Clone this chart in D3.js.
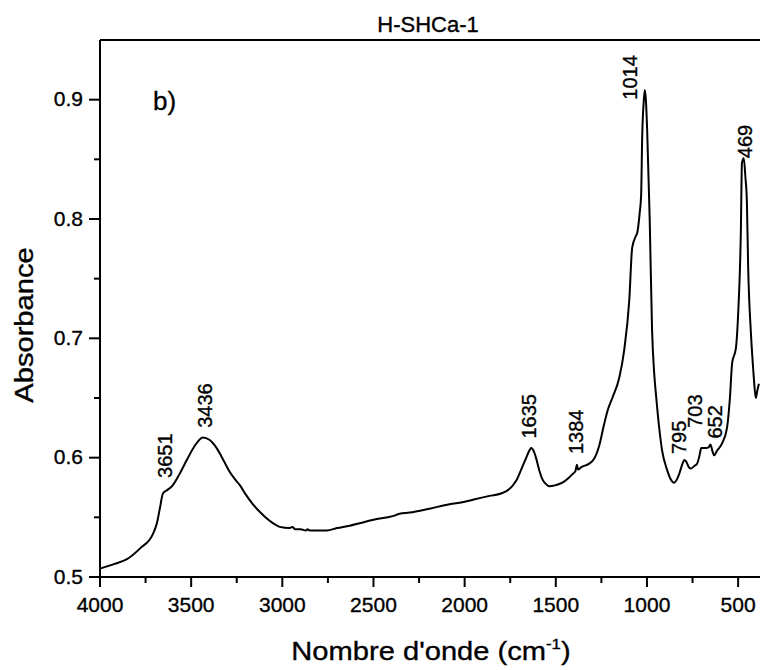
<!DOCTYPE html>
<html>
<head>
<meta charset="utf-8">
<script src="https://cdn.jsdelivr.net/npm/d3@7"></script>
<style>
  body { margin: 0; background: #fff; }
  svg text { font-family: "Liberation Sans", Arial, sans-serif; fill: #000; stroke: #000; stroke-width: 0.35px; }
</style>
</head>
<body>
<div id="graph"></div>
<script>

/********DATA******/

const waveNumbers = [4000, 3920, 3852, 3780, 3710, 3688, 3671, 3655, 3630, 3606, 3565, 3524, 3480, 3436,
    3400, 3360, 3320, 3288, 3260, 3233, 3200, 3162, 3120, 3085, 3050, 3014, 2960, 2943, 2930, 2900,
    2870, 2862, 2850, 2800, 2757, 2700, 2630, 2576, 2500, 2395, 2357, 2302, 2200, 2083, 2000, 1950,
    1864, 1800, 1771, 1740, 1716, 1690, 1662, 1645, 1635, 1620, 1607, 1590, 1574, 1555, 1536, 1500,
    1464, 1430, 1410, 1392, 1384, 1378, 1360, 1317, 1290, 1262, 1235, 1215, 1190, 1152, 1125, 1097,
    1081, 1060, 1054, 1040, 1032, 1026, 1018, 1012, 1006, 999, 985, 972, 960, 950, 935, 917, 890,
    870, 851, 835, 824, 805, 795, 786, 770, 758, 740, 725, 710, 703, 690, 676, 660, 652, 640, 632,
    615, 588, 561, 545, 533, 512, 500, 485, 479, 469, 460, 452, 445, 430, 420, 413, 403, 395, 386];

const absorbance = [0.507, 0.511, 0.515, 0.524, 0.536, 0.545, 0.558, 0.570, 0.573, 0.576, 0.586, 0.598, 0.610, 0.617,
    0.615, 0.608, 0.597, 0.588, 0.582, 0.577, 0.569, 0.561, 0.554, 0.549, 0.545, 0.542, 0.541, 0.542, 0.540, 0.540,
    0.539, 0.540, 0.539, 0.539, 0.539, 0.541, 0.543, 0.545, 0.548, 0.551, 0.553, 0.554, 0.557, 0.561, 0.563, 0.565,
    0.568, 0.570, 0.572, 0.576, 0.581, 0.590, 0.600, 0.606, 0.608, 0.605, 0.599, 0.589, 0.582, 0.578, 0.576, 0.577,
    0.579, 0.583, 0.586, 0.589, 0.594, 0.590, 0.592, 0.595, 0.599, 0.610, 0.628, 0.640, 0.650, 0.667, 0.690, 0.732,
    0.776, 0.786, 0.788, 0.805, 0.820, 0.870, 0.898, 0.908, 0.900, 0.875, 0.800, 0.707, 0.670, 0.652, 0.628, 0.606, 0.590,
    0.582, 0.579, 0.582, 0.586, 0.595, 0.598, 0.597, 0.592, 0.591, 0.593, 0.595, 0.603, 0.608, 0.608, 0.608, 0.609, 0.611, 0.605, 0.602,
    0.606, 0.612, 0.625, 0.650, 0.679, 0.692, 0.720, 0.790, 0.847, 0.851, 0.835, 0.815, 0.760, 0.705, 0.680, 0.665, 0.650, 0.656, 0.662];

// peak annotations : text, wavenumber where the label stands, absorbance at its foot
const peakLabels = ["3651", "3436", "1635", "1384", "1014", "795", "703", "652", "469"];
const peakWave   = [3644, 3425, 1645, 1388, 1092, 824, 736, 627, 462];
const peakFoot   = [0.583, 0.625, 0.616, 0.603, 0.900, 0.603, 0.625, 0.616, 0.851];

const xTicks = [4000, 3500, 3000, 2500, 2000, 1500, 1000, 500];
const xMinor = [3750, 3250, 2750, 2250, 1750, 1250, 750];
const yTicks = [0.5, 0.6, 0.7, 0.8, 0.9];
const yMinor = [0.55, 0.65, 0.75, 0.85];

const title = "H-SHCa-1";
const panel = "b)";

/********GRAPH******/

const width = 760;
const height = 670;
const margin = {top: 40, right: 0, bottom: 93, left: 100};

const svg = d3.select("#graph")
    .append("svg")
    .attr("width", width)
    .attr("height", height);

const x = d3.scaleLinear().domain([4000, 380]).range([margin.left, width - margin.right]);
const y = d3.scaleLinear().domain([0.5, 0.95]).range([height - margin.bottom, margin.top]);

const data = waveNumbers.map(function (w, i) { return {w: w, a: absorbance[i]}; });

// axes
function styleAxis(g, size) {
    g.select(".domain").attr("stroke-width", 2);
    g.selectAll(".tick line").attr("stroke-width", 2);
    g.selectAll(".tick text").style("font-size", size + "px");
}

svg.append("g")
    .attr("transform", "translate(0," + y(0.5) + ")")
    .call(d3.axisBottom(x).tickValues(xMinor).tickSize(6).tickFormat("").tickSizeOuter(0).offset(0))
    .call(function (g) { g.select(".domain").remove(); g.selectAll("line").attr("stroke-width", 2); });

svg.append("g")
    .attr("transform", "translate(0," + y(0.5) + ")")
    .call(d3.axisBottom(x).tickValues(xTicks).tickFormat(d3.format("d")).tickSize(10).tickPadding(10).tickSizeOuter(0).offset(0))
    .call(styleAxis, 21);

svg.append("g")
    .attr("transform", "translate(" + margin.left + ",0)")
    .call(d3.axisLeft(y).tickValues(yMinor).tickSize(6).tickFormat("").tickSizeOuter(0).offset(0))
    .call(function (g) { g.select(".domain").remove(); g.selectAll("line").attr("stroke-width", 2); });

svg.append("g")
    .attr("transform", "translate(" + margin.left + ",0)")
    .call(d3.axisLeft(y).tickValues(yTicks).tickFormat(d3.format(".1f")).tickSize(11).tickPadding(6).tickSizeOuter(0).offset(0))
    .call(styleAxis, 21);

// top frame
svg.append("g")
    .attr("transform", "translate(0," + margin.top + ")")
    .call(d3.axisTop(x).tickValues([]).tickSizeOuter(0).offset(0))
    .call(styleAxis, 21);

// spectrum
const line = d3.line()
    .x(function (d) { return x(d.w); })
    .y(function (d) { return y(d.a); })
    .curve(d3.curveMonotoneX);

svg.append("path")
    .datum(data)
    .attr("fill", "none")
    .attr("stroke", "#000")
    .attr("stroke-width", 2)
    .attr("stroke-linejoin", "round")
    .attr("d", line);

// peak labels
svg.selectAll(".peak")
    .data(peakLabels)
    .enter().append("text")
    .attr("class", "peak")
    .attr("transform", function (d, i) {
        return "translate(" + x(peakWave[i]) + "," + y(peakFoot[i]) + ") rotate(-90)";
    })
    .attr("dy", "0.35em")
    .style("font-size", "20px")
    .text(function (d) { return d; });

// texts
svg.append("text")
    .attr("x", 428)
    .attr("y", 32)
    .attr("text-anchor", "middle")
    .style("font-size", "22px")
    .text(title);

svg.append("text")
    .attr("x", 153)
    .attr("y", 110)
    .style("font-size", "26px")
    .text(panel);

svg.append("text")
    .attr("transform", "translate(33,325) rotate(-90) scale(1.12,1)")
    .attr("text-anchor", "middle")
    .style("font-size", "26px")
    .text("Absorbance");

let xLabel = svg.append("text")
    .attr("transform", "translate(431,660) scale(1.12,1)")
    .attr("text-anchor", "middle")
    .style("font-size", "26px");
xLabel.append("tspan").text("Nombre d'onde (cm");
xLabel.append("tspan").attr("dy", -11).style("font-size", "15px").text("-1");
xLabel.append("tspan").attr("dy", 11).text(")");

</script>
</body>
</html>
